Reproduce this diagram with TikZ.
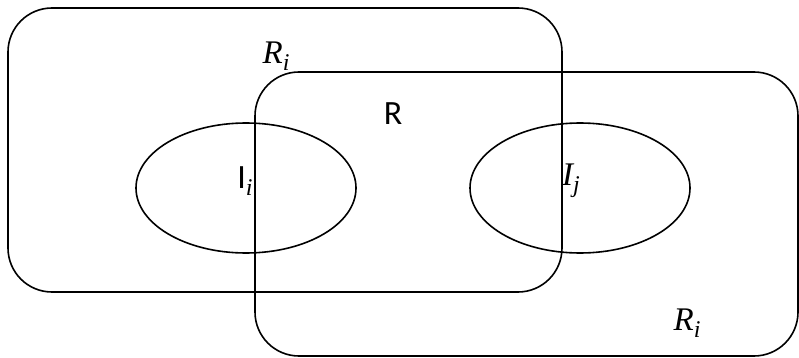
\documentclass[tikz,border=0pt]{standalone}
\usepackage{fontspec}
\setmainfont{Carlito}
\newfontfamily\myital{Liberation Serif Italic}
\begin{document}
\begin{tikzpicture}[x=1pt,y=-1pt,
  shapeline/.style={draw=black,line width=1.6pt},
  lbl/.style={font=\fontsize{34}{34}\selectfont,inner sep=0pt},
  ilbl/.style={font=\fontsize{33}{33}\selectfont\myital,inner sep=0pt}]
\useasboundingbox (0,0) rectangle (799,358);
\draw[shapeline,rounded corners=44pt] (8,8) rectangle (562,292);
\draw[shapeline,rounded corners=44pt] (255,72) rectangle (798,356);
\draw[shapeline] (246,188) ellipse [x radius=110, y radius=65];
\draw[shapeline] (580,188) ellipse [x radius=110, y radius=65];
\node[ilbl] (ri) at (276,56) {R\raisebox{-0.22em}{\fontsize{24}{24}\selectfont i}};
\node[lbl] (r) at (393,114) {R};
\node[lbl] (ii) at (245,181) {I\raisebox{-0.22em}{\fontsize{24}{24}\selectfont\myital i}};
\node[ilbl] (ij) at (571,181) {I\raisebox{-0.22em}{\fontsize{24}{24}\selectfont j}};
\node[ilbl] (ri2) at (687,323) {R\raisebox{-0.22em}{\fontsize{24}{24}\selectfont i}};
\end{tikzpicture}
\end{document}
